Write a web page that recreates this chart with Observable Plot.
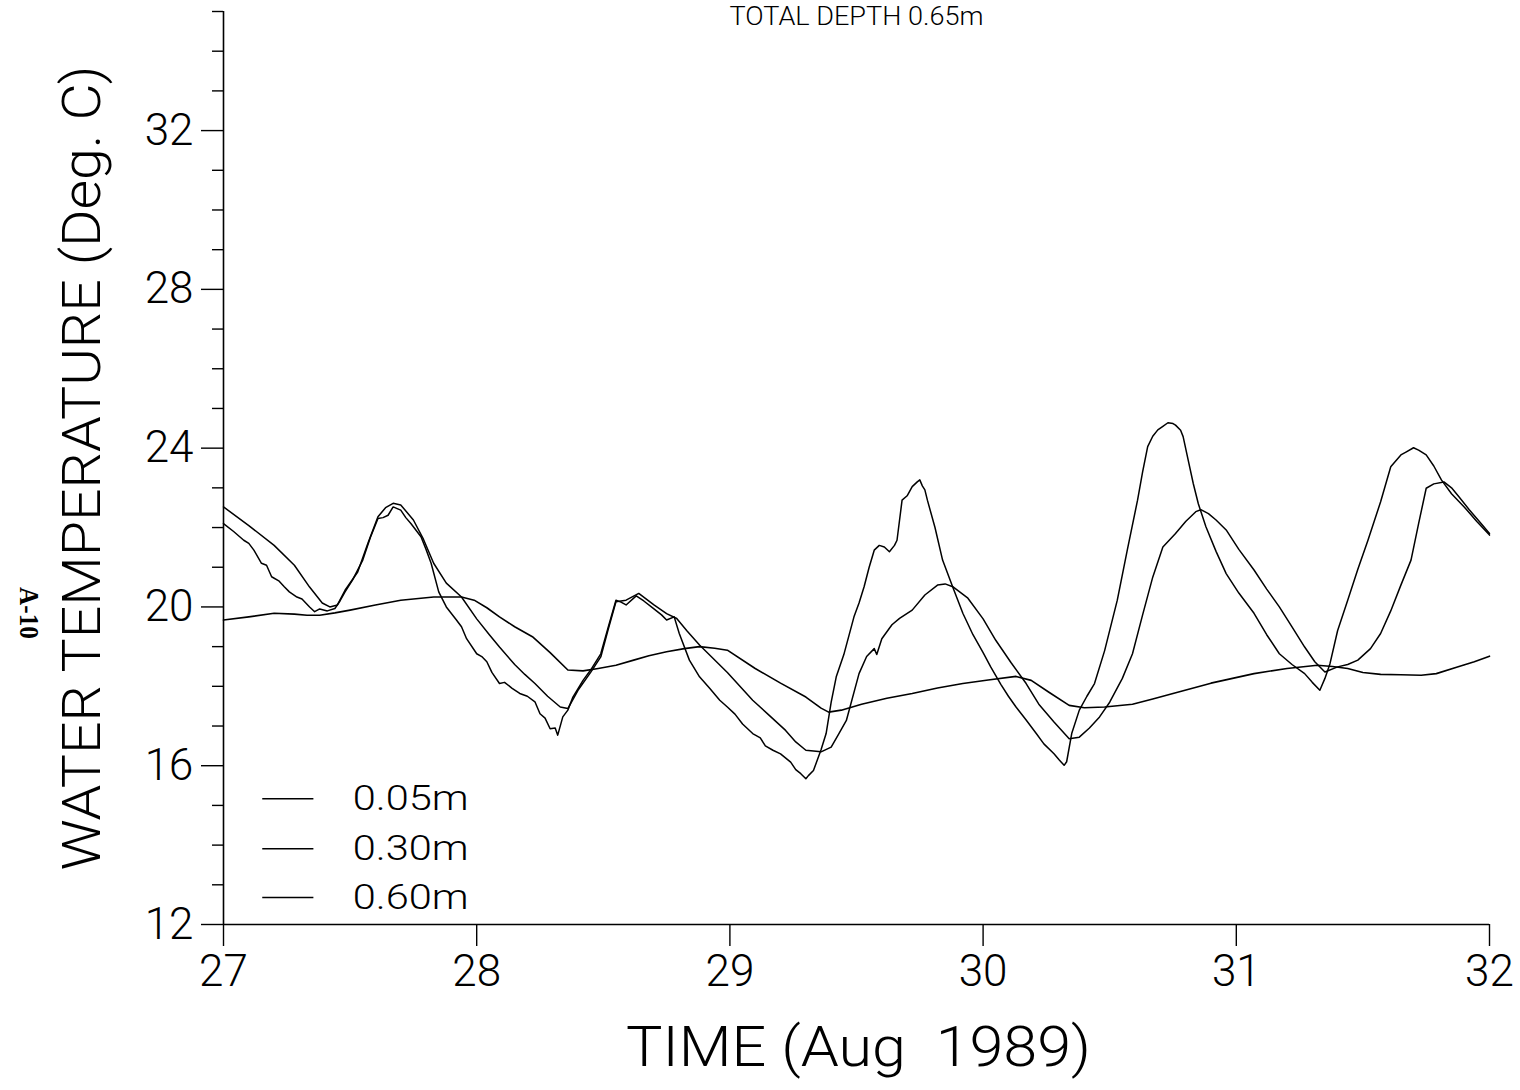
<!DOCTYPE html>
<html>
<head>
<meta charset="utf-8">
<script src="https://cdn.jsdelivr.net/npm/d3@7"></script>
<script src="https://cdn.jsdelivr.net/npm/@observablehq/plot@0.6"></script>
<style>
  html, body { margin: 0; padding: 0; background: #fff; }
</style>
</head>
<body>
<script>
// ---- data ----
const t05 = [27.00,27.04,27.08,27.10,27.12,27.15,27.17,27.19,27.22,27.24,27.26,27.29,27.31,27.34,27.36,27.38,27.41,27.44,27.46,27.48,27.51,27.55,27.58,27.61,27.63,27.65,27.67,27.70,27.72,27.74,27.78,27.80,27.82,27.85,27.88,27.92,27.94,27.96,28.00,28.02,28.04,28.06,28.09,28.11,28.14,28.17,28.20,28.23,28.25,28.27,28.29,28.31,28.32,28.34,28.36,28.38,28.42,28.45,28.49,28.52,28.55,28.57,28.59,28.63,28.66,28.70,28.73,28.75,28.78,28.80,28.84,28.88,28.92,28.96,28.99,29.02,29.05,29.09,29.12,29.14,29.17,29.20,29.24,29.26,29.28,29.30,29.31,29.33,29.36,29.38,29.40,29.42,29.45,29.49,29.51,29.53,29.55,29.57,29.59,29.61,29.63,29.65,29.66,29.68,29.70,29.72,29.74,29.75,29.76,29.77,29.78,29.81,29.84,29.88,29.92,29.96,30.00,30.03,30.07,30.10,30.13,30.17,30.21,30.24,30.28,30.30,30.32,30.33,30.35,30.38,30.41,30.44,30.48,30.53,30.57,30.61,30.63,30.65,30.67,30.69,30.71,30.73,30.75,30.76,30.78,30.79,30.81,30.83,30.85,30.88,30.92,30.96,31.01,31.07,31.12,31.17,31.22,31.27,31.30,31.33,31.35,31.37,31.40,31.44,31.48,31.52,31.57,31.61,31.65,31.67,31.70,31.72,31.75,31.78,31.81,31.85,31.90,31.95,32.00];
const v05 = [22.10,21.90,21.68,21.60,21.43,21.10,21.05,20.76,20.65,20.51,20.38,20.25,20.20,20.00,19.88,19.95,19.90,19.96,20.15,20.38,20.68,21.18,21.75,22.23,22.25,22.31,22.52,22.44,22.25,22.10,21.77,21.45,21.10,20.38,20.00,19.67,19.50,19.20,18.82,18.75,18.62,18.35,18.07,18.10,17.95,17.82,17.75,17.61,17.31,17.20,16.93,16.95,16.77,17.23,17.40,17.73,18.15,18.41,18.82,19.50,20.17,20.12,20.05,20.28,20.15,19.95,19.80,19.67,19.75,19.33,18.66,18.24,17.95,17.65,17.48,17.30,17.05,16.81,16.70,16.50,16.39,16.30,16.09,15.90,15.80,15.67,15.75,15.88,16.40,16.81,17.60,18.24,18.80,19.75,20.10,20.51,21.00,21.43,21.55,21.51,21.39,21.55,21.68,22.69,22.80,23.03,23.15,23.20,23.05,22.95,22.69,22.00,21.18,20.50,19.84,19.30,18.85,18.49,18.05,17.75,17.48,17.15,16.81,16.55,16.30,16.15,16.01,16.10,16.81,17.40,17.75,18.07,18.90,20.17,21.45,22.69,23.40,24.04,24.30,24.46,24.55,24.64,24.62,24.58,24.45,24.29,23.70,23.11,22.60,22.02,21.40,20.84,20.35,19.84,19.30,18.82,18.55,18.32,18.10,17.90,18.20,18.57,19.40,20.17,20.95,21.68,22.65,23.53,23.83,23.90,24.01,23.95,23.83,23.55,23.20,22.85,22.52,22.15,21.81];

const t30 = [27.00,27.10,27.20,27.28,27.34,27.39,27.42,27.45,27.48,27.53,27.57,27.61,27.64,27.67,27.70,27.75,27.79,27.83,27.88,27.94,28.00,28.05,28.09,28.15,28.19,28.23,28.28,28.33,28.36,28.40,28.45,28.49,28.52,28.55,28.59,28.64,28.70,28.75,28.79,28.83,28.88,28.99,29.09,29.15,29.22,29.26,29.30,29.36,29.40,29.43,29.46,29.51,29.54,29.57,29.58,29.60,29.64,29.67,29.72,29.77,29.82,29.85,29.88,29.94,30.00,30.05,30.11,30.17,30.22,30.28,30.34,30.38,30.42,30.46,30.50,30.55,30.59,30.63,30.67,30.71,30.76,30.80,30.84,30.86,30.89,30.92,30.96,31.01,31.07,31.12,31.17,31.22,31.27,31.31,31.35,31.40,31.44,31.48,31.53,31.57,31.61,31.65,31.69,31.72,31.75,31.78,31.82,31.85,31.88,31.92,31.96,32.00];
const v30 = [22.52,22.05,21.55,21.05,20.50,20.10,20.00,20.05,20.42,20.88,21.60,22.27,22.50,22.61,22.57,22.19,21.70,21.10,20.60,20.25,19.70,19.30,18.99,18.55,18.30,18.07,17.75,17.48,17.44,17.90,18.35,18.74,19.45,20.13,20.17,20.34,20.05,19.83,19.71,19.40,19.04,18.35,17.65,17.30,16.89,16.60,16.39,16.35,16.47,16.80,17.14,18.32,18.75,18.95,18.80,19.20,19.55,19.71,19.92,20.30,20.55,20.58,20.51,20.22,19.70,19.16,18.60,18.07,17.55,17.10,16.68,16.72,16.95,17.23,17.60,18.20,18.82,19.80,20.75,21.51,21.85,22.15,22.40,22.45,22.35,22.19,21.94,21.45,20.93,20.45,20.00,19.50,18.99,18.62,18.36,18.49,18.55,18.66,18.95,19.33,19.90,20.55,21.18,22.10,22.99,23.10,23.15,23.00,22.77,22.45,22.15,21.85];

const t60 = [27.00,27.10,27.20,27.28,27.33,27.38,27.44,27.50,27.60,27.70,27.83,27.94,27.99,28.04,28.09,28.15,28.22,28.29,28.36,28.42,28.48,28.55,28.62,28.68,28.75,28.82,28.88,28.94,28.99,29.10,29.20,29.30,29.36,29.39,29.44,29.52,29.62,29.72,29.82,29.92,30.02,30.13,30.19,30.26,30.34,30.40,30.48,30.59,30.67,30.75,30.90,31.07,31.20,31.32,31.38,31.44,31.50,31.57,31.65,31.73,31.79,31.87,31.94,32.00];
const v60 = [19.67,19.75,19.84,19.82,19.79,19.79,19.85,19.92,20.05,20.17,20.25,20.25,20.17,19.98,19.75,19.50,19.25,18.85,18.41,18.39,18.45,18.53,18.66,18.77,18.87,18.95,19.00,18.96,18.91,18.45,18.08,17.73,17.45,17.35,17.40,17.55,17.70,17.82,17.96,18.07,18.16,18.25,18.15,17.85,17.52,17.46,17.48,17.55,17.68,17.82,18.08,18.32,18.45,18.53,18.50,18.45,18.35,18.30,18.29,18.28,18.32,18.48,18.62,18.76];

const seriesLabels = ["0.05m", "0.30m", "0.60m"];
const xTicks = [27, 28, 29, 30, 31, 32];
const yMajorTicks = [12, 16, 20, 24, 28, 32];
const yMinorTicks = [13,14,15,17,18,19,21,22,23,25,26,27,29,30,31,33,34,35];
const titleText = "TOTAL DEPTH 0.65m";
const yLabel = "WATER TEMPERATURE (Deg. C)";
const xLabel = "TIME (Aug  1989)";
const pageLabel = "A-10";

// ---- build tables ----
const toRows = (ts, vs) => ts.map((t, i) => ({t, v: vs[i]}));
const d05 = toRows(t05, v05), d30 = toRows(t30, v30), d60 = toRows(t60, v60);

// legend placement (data units)
const legX1 = 27.155, legX2 = 27.357, legTextX = 27.51;
const legY = [15.17, 13.91, 12.68];
const legend = seriesLabels.map((label, i) => ({label, y: legY[i]}));

const FONT = "Roboto, 'DejaVu Sans', sans-serif";

const svg = Plot.plot({
  width: 1520,
  height: 1090,
  marginLeft: 223,
  marginRight: 31,
  marginTop: 11,
  marginBottom: 166,
  style: {fontFamily: FONT, fontWeight: 300, fontSize: "38px", background: "#fff", color: "#000", overflow: "visible"},
  x: {domain: [27, 32], axis: null},
  y: {domain: [12, 35], axis: null},
  marks: [
    // axis lines
    Plot.ruleX([27], {y1: 12, y2: 35, stroke: "#000", strokeWidth: 1.6}),
    Plot.ruleY([12], {x1: 27, x2: 32, stroke: "#000", strokeWidth: 1.6}),
    Plot.axisX({ticks: xTicks, tickSize: 22, tickPadding: 8, tickFormat: d => String(d), fontSize: 44, fontWeight: 300, fontFamily: FONT, strokeWidth: 1.4, label: null}),
    Plot.axisY({ticks: yMajorTicks, tickSize: 22, tickPadding: 8, tickFormat: d => String(d), fontSize: 44, fontWeight: 300, fontFamily: FONT, strokeWidth: 1.4, label: null}),
    Plot.axisY({ticks: yMinorTicks, tickSize: 11, text: null, strokeWidth: 1.4, label: null}),
    // series
    Plot.line(d05, {x: "t", y: "v", stroke: "#000", strokeWidth: 1.5}),
    Plot.line(d30, {x: "t", y: "v", stroke: "#000", strokeWidth: 1.5}),
    Plot.line(d60, {x: "t", y: "v", stroke: "#000", strokeWidth: 1.6}),
    // legend
    Plot.ruleY(legend, {y: "y", x1: legX1, x2: legX2, stroke: "#000", strokeWidth: 1.5}),
    Plot.text(legend, {x: legTextX, y: "y", text: "label", textAnchor: "start", lineAnchor: "middle", fontSize: 35, fontWeight: 300, fontFamily: FONT}),
    // labels
    Plot.text([titleText], {frameAnchor: "top", dy: 5, lineAnchor: "middle", fontSize: 25, fontWeight: 300, fontFamily: FONT}),
    Plot.text([yLabel], {frameAnchor: "left", dx: -141, dy: 0, rotate: -90, lineAnchor: "middle", textAnchor: "middle", fontSize: 54, fontWeight: 300, fontFamily: FONT}),
    Plot.text([xLabel], {frameAnchor: "bottom", dx: 2, dy: 124, lineAnchor: "middle", textAnchor: "middle", fontSize: 56, fontWeight: 300, fontFamily: FONT}),
    Plot.text([pageLabel], {frameAnchor: "left", dx: -195, dy: 145, rotate: 90, lineAnchor: "middle", textAnchor: "middle", fontSize: 28, fontWeight: "bold", fontFamily: "'Liberation Serif', 'DejaVu Serif', serif"})
  ]
});

document.body.append(svg);

// fit long labels to the reference widths
const fit = {};
fit[yLabel] = 805; fit[xLabel] = 465; fit[titleText] = 254; fit[pageLabel] = 52;
seriesLabels.forEach(s => fit[s] = 116);
d3.select(svg).selectAll("text").each(function() {
  const s = this.textContent;
  if (fit[s]) {
    this.setAttribute("textLength", fit[s]);
    this.setAttribute("lengthAdjust", "spacingAndGlyphs");
  }
  if (s === xLabel) this.style.whiteSpace = "pre";
});
</script>
</body>
</html>
